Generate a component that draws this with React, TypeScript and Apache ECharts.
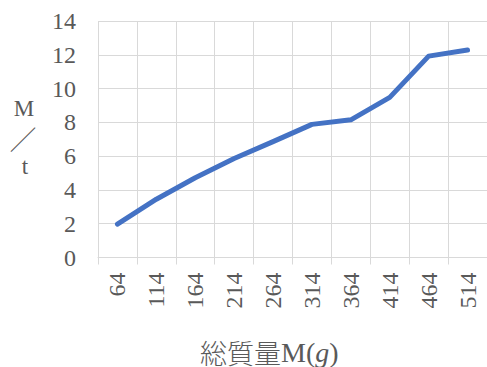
import React, { useEffect, useRef } from "react";
import * as echarts from "echarts";

const categories = ["64", "114", "164", "214", "264", "314", "364", "414", "464", "514"];
const values = [1.97, 3.45, 4.72, 5.86, 6.86, 7.88, 8.15, 9.48, 11.92, 12.28];
const yTicks = { min: 0, max: 14, interval: 2 };
const xTitleCjk = "総質量";
const xTitleLatin = "M(";
const xTitleItalic = "g";
const xTitleEnd = ")";
const yTitleTop = "M";
const yTitleMid = "／";
const yTitleBottom = "t";

const SERIF = "Liberation Serif";

export default function App() {
  const ref = useRef<HTMLDivElement>(null);
  useEffect(() => {
    if (!ref.current) return;
    const chart = echarts.init(ref.current, undefined, { renderer: "svg" });
    const grey = "#595959";
    const gridColor = "#D9D9D9";
    chart.setOption({
      animation: false,
      backgroundColor: "#ffffff",
      textStyle: { fontFamily: SERIF, fontSize: 24, color: grey },
      grid: { left: 98, top: 21, width: 400, height: 236.5, containLabel: false },
      xAxis: {
        type: "category",
        data: categories,
        boundaryGap: true,
        axisLine: { show: true, lineStyle: { color: gridColor, width: 1 } },
        axisTick: { show: true, length: 7, lineStyle: { color: gridColor, width: 1 } },
        splitLine: { show: true, lineStyle: { color: gridColor, width: 1 } },
        axisLabel: {
          show: true,
          interval: 0,
          rotate: 90,
          margin: 15,
          color: grey,
          fontFamily: SERIF,
          fontSize: 24,
          fontWeight: "normal",
        },
      },
      yAxis: {
        type: "value",
        min: yTicks.min,
        max: yTicks.max,
        interval: yTicks.interval,
        axisLine: { show: false },
        axisTick: { show: false },
        splitLine: { show: true, lineStyle: { color: gridColor, width: 1 } },
        axisLabel: {
          show: true,
          margin: 22,
          color: grey,
          fontFamily: SERIF,
          fontSize: 24,
          fontWeight: "normal",
        },
      },
      graphic: [
        {
          type: "text",
          x: 200,
          y: 352,
          style: {
            text:
              "{c|" + xTitleCjk + "}{l|" + xTitleLatin + "}{i|" + xTitleItalic + "}{l|" + xTitleEnd + "}",
            fill: grey,
            align: "left",
            verticalAlign: "middle",
            rich: {
              c: {
                fontFamily: "Noto Sans CJK JP",
                fontWeight: 300,
                fontSize: 27,
                fill: grey,
              },
              l: {
                fontFamily: SERIF,
                fontSize: 28,
                fill: grey,
              },
              i: {
                fontFamily: SERIF,
                fontStyle: "italic",
                fontSize: 28,
                fill: grey,
              },
            },
          },
        },
        {
          type: "text",
          x: 24,
          y: 108,
          style: {
            text: yTitleTop,
            fill: grey,
            fontFamily: SERIF,
            fontSize: 23,
            align: "center",
            verticalAlign: "middle",
          },
        },
        {
          type: "text",
          x: 23,
          y: 138,
          style: {
            text: yTitleMid,
            fill: grey,
            fontFamily: "Noto Sans CJK JP",
            fontWeight: 100,
            fontSize: 27,
            align: "center",
            verticalAlign: "middle",
          },
        },
        {
          type: "text",
          x: 25,
          y: 166,
          style: {
            text: yTitleBottom,
            fill: grey,
            fontFamily: SERIF,
            fontSize: 23,
            align: "center",
            verticalAlign: "middle",
          },
        },
      ],
      series: [
        {
          type: "line",
          data: values,
          symbol: "none",
          lineStyle: { color: "#4472C4", width: 5, cap: "round", join: "round" },
        },
      ],
    });
    return () => chart.dispose();
  }, []);
  return (
    <div
      ref={ref}
      style={{ position: "absolute", left: 0, top: 0, width: 487, height: 367 }}
    />
  );
}
